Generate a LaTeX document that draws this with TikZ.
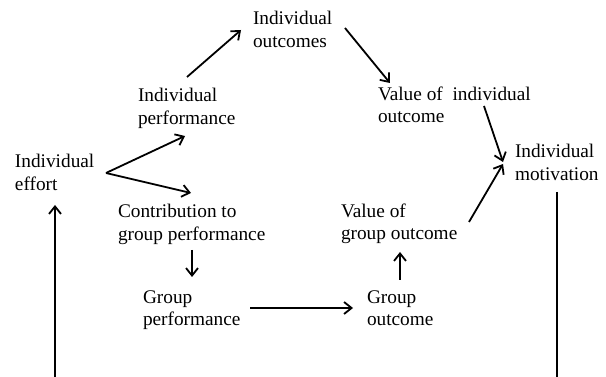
\documentclass[tikz,border=0pt]{standalone}
\usepackage{fontspec}
\setmainfont{Liberation Serif}
\usetikzlibrary{arrows.meta}
\tikzset{
  lbl/.style={anchor=north west, inner sep=0pt, outer sep=0pt, align=left,
    font=\fontsize{19.3}{22.5}\selectfont},
  arr/.style={line width=1.8pt, -{Straight Barb[length=7.5pt,width=12pt,line width=1.8pt]}},
  ln/.style={line width=1.8pt}
}
\begin{document}
\begin{tikzpicture}[x=1pt,y=-1pt]
\useasboundingbox (0,0) rectangle (606,377);
\node[lbl] (eff) at (15,154.5) {Individual\\effort};
\node[lbl] (ip)  at (138,88.5) {Individual\\performance};
\node[lbl] (io)  at (253,11.5) {Individual\\outcomes};
\node[lbl] (vio) at (378,86.5) {Value of\ \ individual\\outcome};
\node[lbl] (mot) at (515,144.5) {Individual\\motivation};
\node[lbl] (cgp) at (118,204.5) {Contribution to\\group performance};
\node[lbl] (gp)  at (143,290.5) {Group\\performance};
\node[lbl] (go)  at (367,290.5) {Group\\outcome};
\node[lbl] (vgo) at (341,203.5) {Value of\\group outcome};
\coordinate (lbot) at (55,377);
\coordinate (rbot) at (557,377);
\draw[arr] ([shift={(91,18.5)}]eff.north west) -- ([shift={(47,47.5)}]ip.north west);
\draw[arr] ([shift={(91,18.5)}]eff.north west) -- ([shift={(73,-11.5)}]cgp.north west);
\draw[arr] ([shift={(49,-11.5)}]ip.north west) -- ([shift={(-12,18.5)}]io.north west);
\draw[arr] ([shift={(92,16.5)}]io.north west) -- ([shift={(12,-3.5)}]vio.north west);
\draw[arr] ([shift={(106,19.5)}]vio.north west) -- ([shift={(-12,17.5)}]mot.north west);
\draw[arr] ([shift={(128,18.5)}]vgo.north west) -- ([shift={(-12,19.5)}]mot.north west);
\draw[arr] ([shift={(74,45.5)}]cgp.north west) -- ([shift={(49,-13.5)}]gp.north west);
\draw[arr] ([shift={(107,17.5)}]gp.north west) -- ([shift={(-14,17.5)}]go.north west);
\draw[arr] ([shift={(33,-10.5)}]go.north west) -- ([shift={(59,48.5)}]vgo.north west);
\draw[ln] ([shift={(42,47.5)}]mot.north west) -- (rbot);
\draw[arr] (lbot) -- ([shift={(40,50.5)}]eff.north west);
\end{tikzpicture}
\end{document}
